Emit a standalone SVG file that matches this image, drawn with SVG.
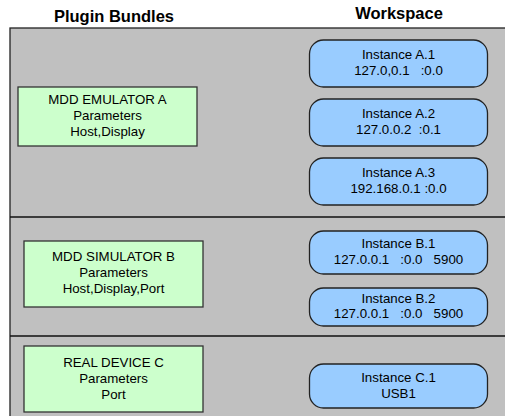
<svg xmlns="http://www.w3.org/2000/svg" width="505" height="416" viewBox="0 0 505 416">
  <style>
    text { font-family: "Liberation Sans", Arial, sans-serif; fill: #000; white-space: pre; }
    .head { font-size: 16.5px; font-weight: bold; text-anchor: middle; }
    .lbl { font-size: 13.3px; text-anchor: middle; }
    .bundle { fill: #CCFFCC; stroke: #333; stroke-width: 1.3; }
    .inst { fill: #99CCFF; stroke: #222; stroke-width: 1.3; }
    .shadow { fill: #555; }
    .lane { stroke: #111; stroke-width: 1.3; fill: none; }
  </style>

  <rect width="505" height="416" fill="#FFFFFF"/>

  <!-- column headings -->
  <text class="head" x="114" y="22">Plugin Bundles</text>
  <text class="head" x="399" y="19">Workspace</text>

  <!-- background panel and lane separators -->
  <g id="lanes">
    <rect x="10" y="28" width="500" height="395" fill="#C0C0C0" stroke="#222" stroke-width="1.3"/>
    <line class="lane" x1="10" y1="217" x2="505" y2="217"/>
    <line class="lane" x1="10" y1="336" x2="505" y2="336"/>
  </g>

  <!-- plugin bundles -->
  <g id="bundle-a">
    <rect class="bundle" x="18" y="87" width="179" height="59"/>
    <text class="lbl" x="107.5" y="104">MDD EMULATOR A</text>
    <text class="lbl" x="107.5" y="120">Parameters</text>
    <text class="lbl" x="107.5" y="136">Host,Display</text>
  </g>
  <g id="bundle-b">
    <rect class="bundle" x="24" y="241" width="179" height="66"/>
    <text class="lbl" x="113.5" y="261">MDD SIMULATOR B</text>
    <text class="lbl" x="113.5" y="277">Parameters</text>
    <text class="lbl" x="113.5" y="293">Host,Display,Port</text>
  </g>
  <g id="bundle-c">
    <rect class="bundle" x="24" y="346" width="179" height="66"/>
    <text class="lbl" x="113.5" y="367">REAL DEVICE C</text>
    <text class="lbl" x="113.5" y="383">Parameters</text>
    <text class="lbl" x="113.5" y="399">Port</text>
  </g>

  <!-- workspace instances -->
  <g id="instance-a1">
    <rect class="inst" x="309.5" y="40" width="178" height="47" rx="14"/>
    <text class="lbl" x="398.5" y="59">Instance A.1</text>
    <text class="lbl" x="398.5" y="75">127.0,0.1   :0.0</text>
  </g>
  <g id="instance-a2">
    <rect class="inst" x="309.5" y="99" width="178" height="47" rx="14"/>
    <text class="lbl" x="398.5" y="118">Instance A.2</text>
    <text class="lbl" x="398.5" y="134">127.0.0.2  :0.1</text>
  </g>
  <g id="instance-a3">
    <rect class="inst" x="309.5" y="158" width="178" height="47" rx="14"/>
    <text class="lbl" x="398.5" y="177">Instance A.3</text>
    <text class="lbl" x="398.5" y="193">192.168.0.1 :0.0</text>
  </g>
  <g id="instance-b1">
    <rect class="inst" x="309.5" y="231" width="178" height="43" rx="14"/>
    <text class="lbl" x="398.5" y="248">Instance B.1</text>
    <text class="lbl" x="398.5" y="264">127.0.0.1   :0.0   5900</text>
  </g>
  <g id="instance-b2">
    <rect class="inst" x="309.5" y="288" width="178" height="38" rx="14"/>
    <text class="lbl" x="398.5" y="303">Instance B.2</text>
    <text class="lbl" x="398.5" y="318">127.0.0.1   :0.0   5900</text>
  </g>
  <g id="instance-c1">
    <rect class="inst" x="309.5" y="364" width="178" height="44" rx="14"/>
    <text class="lbl" x="398.5" y="382">Instance C.1</text>
    <text class="lbl" x="398.5" y="398">USB1</text>
  </g>
</svg>
